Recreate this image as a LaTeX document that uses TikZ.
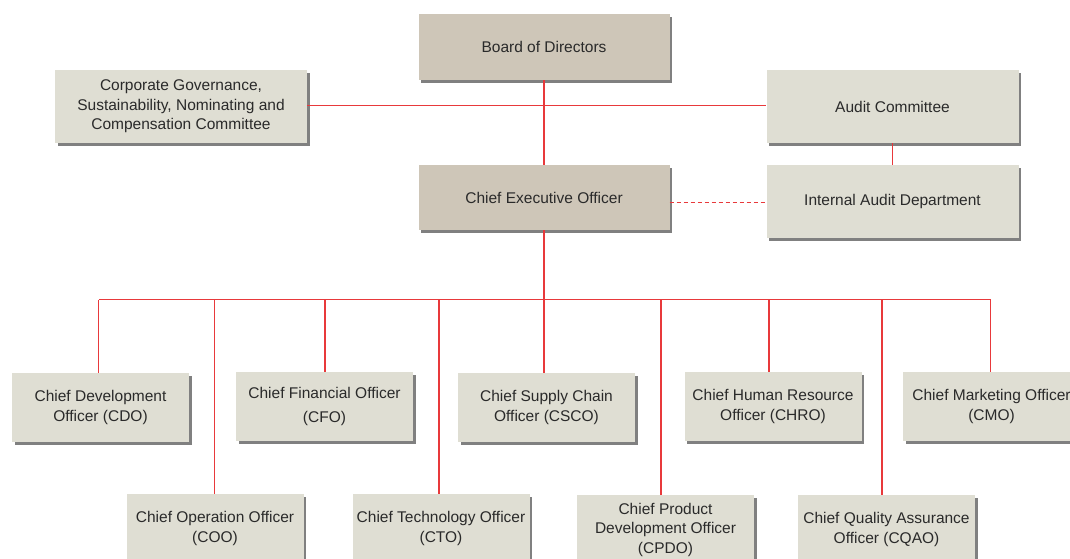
\documentclass[tikz,border=0pt]{standalone}
\usepackage{fontspec}
\setmainfont{Liberation Sans}
\usetikzlibrary{shadows}
\definecolor{linkred}{HTML}{E8393B}
\definecolor{tanfill}{HTML}{CEC6B8}
\definecolor{greyfill}{HTML}{DFDED3}
\definecolor{inkgrey}{HTML}{2A2A2A}
\begin{document}
\begin{tikzpicture}[x=1pt,y=-1pt,
  box/.style={rectangle, inner sep=0pt, align=center, text=inkgrey,
    font=\fontsize{15.5}{19.5}\selectfont,
    general shadow={fill=black!50, shadow xshift=2.5pt, shadow yshift=-2.5pt}},
  topbox/.style={box, fill=tanfill},
  unitbox/.style={box, fill=greyfill},
  wide/.style={minimum width=252pt, minimum height=73pt},
  officer/.style={minimum width=177pt, minimum height=69pt},
  link/.style={draw=linkred, line width=1.2pt},
  dotted link/.style={link, dash pattern=on 4pt off 3pt}]
\useasboundingbox (0,0) rectangle (1070,558);
\begin{scope}
\clip (0,0) rectangle (1070,558);

% governing bodies
\node[topbox, minimum width=251pt, minimum height=66pt] (board) at (544,47) {Board of Directors};
\node[unitbox, wide] (cg) at (181,106.5) {Corporate Governance,\\Sustainability, Nominating and\\Compensation Committee};
\node[unitbox, wide] (audit) at (892.5,106.5) {Audit Committee};
\node[topbox, minimum width=251pt, minimum height=65pt] (ceo) at (544,197.5) {Chief Executive Officer};
\node[unitbox, wide] (iad) at (892.5,201.5) {Internal Audit Department};

% chief officers, upper row
\node[unitbox, officer] (cdo) at (100.5,407.5) {Chief Development\\Officer (CDO)};
\node[unitbox, officer] (cfo) at (324.5,406.5) {Chief Financial Officer\\[5pt](CFO)};
\node[unitbox, officer] (csco) at (546.5,407.5) {Chief Supply Chain\\Officer (CSCO)};
\node[unitbox, officer] (chro) at (773,406.5) {Chief Human Resource\\Officer (CHRO)};
\node[unitbox, officer] (cmo) at (991.5,406.5) {Chief Marketing Officer\\(CMO)};

% chief officers, lower row
\node[unitbox, officer] (coo) at (215,528.5) {Chief Operation Officer\\(COO)};
\node[unitbox, officer] (cto) at (441,528.5) {Chief Technology Officer\\(CTO)};
\node[unitbox, officer] (cpdo) at (665.5,529.5) {Chief Product\\Development Officer\\(CPDO)};
\node[unitbox, officer] (cqao) at (886.5,529.5) {Chief Quality Assurance\\Officer (CQAO)};
\end{scope}

% reporting lines
\coordinate (bus) at (0,299.5);
\draw[link] (cg.east |- 0,105.5) -- (audit.west |- 0,105.5);
\draw[link] (board.south) -- (ceo.north);
\draw[link] (audit.south) -- (iad.north);
\draw[dotted link] (ceo.east |- 0,202.5) -- (iad.west |- 0,202.5);
\draw[link] (ceo.south) -- (ceo.south |- csco.north);
\draw[link] ([xshift=-2pt]cdo.north |- bus) -- ([xshift=-1pt]cmo.north |- bus);
% drops from the bus to each officer box
\foreach \n/\dx in {cdo/-2, coo/-0.5, cfo/0.5, cto/-2, chro/-4, cpdo/-4.5, cqao/-4.5, cmo/-1}
  \draw[link] ([xshift=\dx pt]\n.north) -- ([xshift=\dx pt]\n.north |- bus);
\end{tikzpicture}
\end{document}
